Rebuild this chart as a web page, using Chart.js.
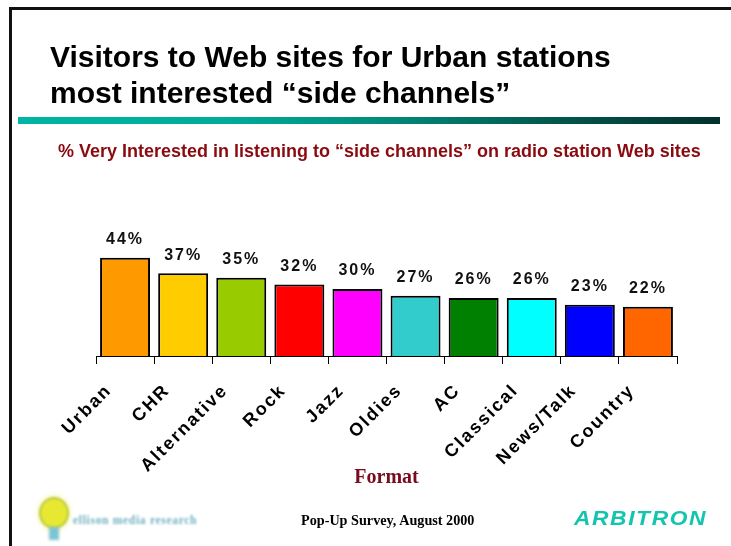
<!DOCTYPE html>
<html>
<head>
<meta charset="utf-8">
<title>Side channels by format</title>
<script src="https://cdn.jsdelivr.net/npm/chart.js@4"></script>
<style>
    html, body { margin: 0; padding: 0; background: #fff; }
    #slide { position: relative; width: 731px; height: 546px; overflow: hidden; }
    #slide div { position: absolute; white-space: nowrap; }
    #frame { left: 9px; top: 7px; width: 740px; height: 600px; border-top: 3px solid #111; border-left: 3px solid #111; }
    #headline { left: 50px; top: 39px; font: bold 30px/36px "Liberation Sans", sans-serif; color: #000; }
    #rule { left: 18px; top: 117px; width: 702px; height: 7px; background: linear-gradient(to right, #00b5a3 0%, #00ab99 30%, #008b7b 52%, #025a50 75%, #02302c 100%); }
    #subhead { left: 58px; top: 141px; font: bold 18px/20px "Liberation Sans", sans-serif; color: #8b0a0f; }
    #survey { left: 301px; top: 512px; font: bold 14.2px/16px "Liberation Serif", serif; color: #000; }
    #bulb { left: 39px; top: 497px; width: 26px; height: 28px; border-radius: 50%; background: #e6e832; border: 2px solid #b9c93e; box-shadow: 0 0 6px #f2f08a; filter: blur(1px); }
    #bulbBase { left: 49px; top: 527px; width: 10px; height: 13px; background: #7cc4d4; filter: blur(1.5px); }
    #ellison { left: 73px; top: 512px; font: bold 11.5px/16px "Liberation Serif", serif; letter-spacing: 0.7px; color: #6fb0c0; filter: blur(0.8px); }
    #arbitron { left: 574px; top: 506px; font: italic bold 20px/24px "Liberation Sans", sans-serif; letter-spacing: 1.4px; color: #14c4ae; transform: scaleX(1.14); transform-origin: left center; }
    canvas { position: absolute; left: 0; top: 0; }
</style>
</head>
<body>
<div id="slide">
    <canvas id="formatChart" width="731" height="546"></canvas>
    <div id="frame"></div>
    <div id="headline">Visitors to Web sites for Urban stations<br>most interested “side channels”</div>
    <div id="rule"></div>
    <div id="subhead">% Very Interested in listening to “side channels” on radio station Web sites</div>
    <div id="survey">Pop-Up Survey, August 2000</div>
    <div id="bulb"></div>
    <div id="bulbBase"></div>
    <div id="ellison">ellison media research</div>
    <div id="arbitron">ARBITRON</div>
</div>
<script>
var formats = ['Urban', 'CHR', 'Alternative', 'Rock', 'Jazz', 'Oldies', 'AC', 'Classical', 'News/Talk', 'Country'];
var veryInterested = [44, 37, 35, 32, 30, 27, 26, 26, 23, 22];
var barColors = ['#ff9900', '#ffcc00', '#99cc00', '#ff0000', '#ff00ff', '#33cccc', '#008000', '#00ffff', '#0000ff', '#ff6600'];

// Percent labels above each bar, then wider tracking for the x tick labels
// (those are on z 1, so they get drawn right after this hook)
var valueLabels = {
    id: 'valueLabels',
    afterDatasetsDraw: function(chart) {
        var ctx = chart.ctx;
        ctx.save();
        ctx.font = 'bold 16px "Liberation Sans", sans-serif';
        ctx.letterSpacing = '2px';
        ctx.fillStyle = '#111';
        ctx.textAlign = 'center';
        ctx.textBaseline = 'bottom';
        chart.getDatasetMeta(0).data.forEach(function(bar, i) {
            ctx.fillText(veryInterested[i] + '%', bar.x, bar.y - 10);
        });
        ctx.restore();
        ctx.letterSpacing = '2px';
    },
    afterDraw: function(chart) {
        chart.ctx.letterSpacing = '0px';
    }
};

var ctx = document.getElementById('formatChart').getContext('2d');
var formatChart = new Chart(ctx, {
    type: 'bar',
    data: {
        labels: formats,
        datasets: [{
            data: veryInterested,
            backgroundColor: barColors,
            borderColor: '#000',
            borderWidth: 2,
            barPercentage: 0.86,
            categoryPercentage: 1
        }]
    },
    options: {
        responsive: false,
        animation: false,
        layout: { padding: { left: 96, right: 54, top: 222, bottom: 56 } },
        plugins: { legend: { display: false }, tooltip: { enabled: false } },
        scales: {
            y: { display: false, min: 0, max: 60 },
            x: {
                border: { color: '#000', width: 1 },
                grid: { offset: true, drawOnChartArea: false, color: '#000', tickLength: 8 },
                ticks: {
                    color: '#000',
                    minRotation: 45,
                    maxRotation: 45,
                    padding: 16,
                    labelOffset: -16,
                    z: 1,
                    font: { family: '"Liberation Sans", sans-serif', weight: 'bold', size: 18 }
                },
                title: {
                    display: true,
                    text: 'Format',
                    color: '#7a0a1e',
                    padding: { top: -4, bottom: 0 },
                    font: { family: '"Liberation Serif", serif', weight: 'bold', size: 20 }
                }
            }
        }
    },
    plugins: [valueLabels]
});
</script>
</body>
</html>
